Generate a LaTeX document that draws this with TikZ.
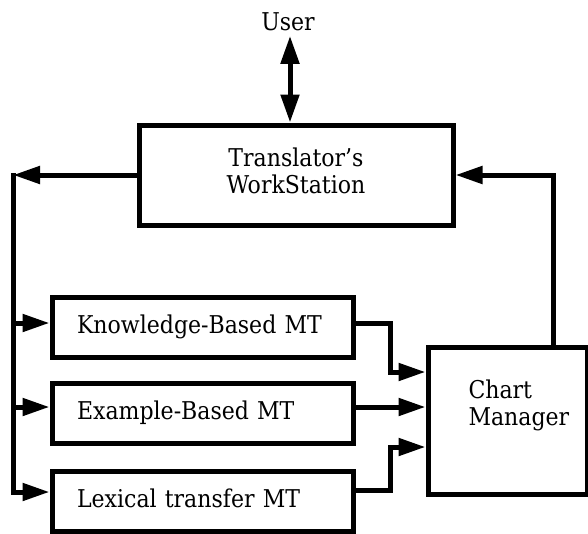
\documentclass[tikz,border=0pt]{standalone}
\usepackage{fontspec}
\setmainfont{DejaVu Serif Condensed}
\usetikzlibrary{arrows.meta}
\begin{document}
\begin{tikzpicture}[x=1pt, y=-1pt, line width=5pt,
  font=\fontsize{24.5}{27}\selectfont,
  box/.style={draw, rectangle, line width=5pt},
  mtbox/.style={box, minimum width=301pt, minimum height=60pt, text width=251pt, inner xsep=25pt, inner ysep=0pt, align=left, text height=18.5pt, text depth=6pt},
  arr/.style={-{Triangle[length=27pt,width=17pt]}},
  dbl/.style={{Triangle[length=28pt,width=18pt]}-{Triangle[length=28pt,width=18pt]}},
  ln/.style={line cap=rect}]
\useasboundingbox (0,0) rectangle (588,533);
\node[inner sep=3pt, anchor=base] (user) at (288,30) {User};
\node[box, minimum width=314pt, minimum height=100pt, align=center, text depth=8pt] (tws) at (296,175) {Translator's\\WorkStation};
\node[mtbox] (kb) at (202.5,327.5) {\mbox{Knowledge-Based MT}};
\node[mtbox] (eb) at (202.5,413.5) {\mbox{Example-Based MT}};
\node[mtbox] (lt) at (202.5,501.5) {\mbox{Lexical transfer MT}};
\node[box, minimum width=159pt, minimum height=147pt] (cm) at (507.5,420.5) {};
\node[anchor=north west, inner sep=0pt, align=left] (cmtext) at (466,377) {Chart\\Manager};
\coordinate (bt) at (13,175);
\coordinate (bb) at (13,492);
\draw[arr] (tws.west) -- (bt);
\draw[ln] (bt) -- (bb);
\draw[arr] (bt |- 0,323) -- (kb.west |- 0,323);
\draw[arr] (bt |- 0,407) -- (eb.west |- 0,407);
\draw[arr] (bb) -- (lt.west |- bb);
\draw[arr] (kb.east |- 0,323) -| (390,372) -- (cm.west |- 0,372);
\draw[arr] (eb.east |- 0,407) -- (cm.west |- 0,407);
\draw[arr] (lt.east |- 0,490) -| (390,447) -- (cm.west |- 0,447);
\draw[arr] (cm.north -| 553,0) -- (553,175) -- (tws.east);
\draw[dbl] (user.south -| 290,0) -- (tws.north -| 290,0);
\end{tikzpicture}
\end{document}
